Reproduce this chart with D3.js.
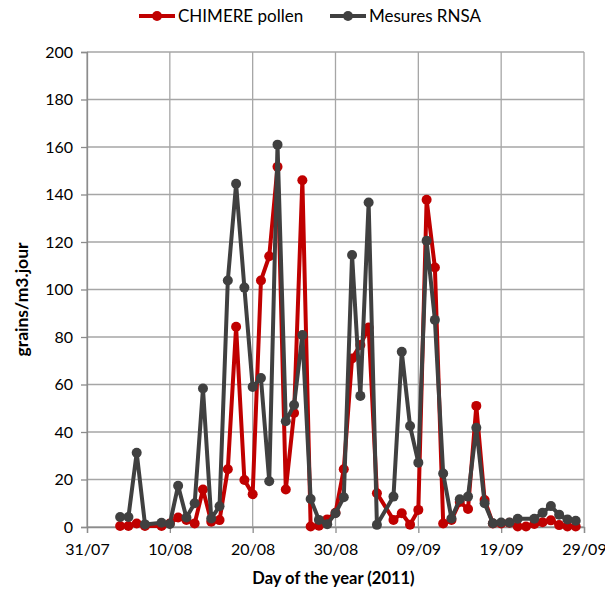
<!DOCTYPE html>
<html>
<head>
<meta charset="utf-8">
<script src="https://cdn.jsdelivr.net/npm/d3@7"></script>
<style>
  body { margin: 0; background: #fff; }
  text { font-family: Lato, "Open Sans", sans-serif; fill: #000; }
</style>
</head>
<body>
<div id="chart"></div>
<script>
// day offset from 31/07/2011
var days = [4, 5, 6, 7, 9, 10, 11, 12, 13, 14, 15, 16, 17, 18, 19, 20, 21, 22, 23, 24, 25, 26, 27, 28, 29,
  30, 31, 32, 33, 34, 35, 37, 38, 39, 40, 41, 42, 43, 44, 45, 46, 47, 48, 49, 50, 51, 52, 53, 54, 55, 56, 57, 58, 59];

var chimere = [0.4, 0.4, 1.5, 0.4, 0.4, 1.5, 4, 3, 1.5, 15.8, 2.2, 2.9, 24.3, 84.3, 19.8, 13.8, 103.8, 114, 151.7, 15.8, 48, 146, 0.2, 0.5, 3.2,
  6, 24.3, 71, 76.6, 84, 14.2, 3, 5.8, 1, 7.2, 137.8, 109.3, 1.5, 3, 10.5, 7.6, 51, 11.4, 1.5, 1.5, 1.8, 0.2, 0.2, 1.3, 2, 2.8, 0.8, 0.2, 0.2];

// RNSA: no value on day 53
var rnsa = [4.2, 4.2, 31.3, 1.1, 1.8, 1.3, 17.4, 4, 10, 58.3, 3.6, 8.7, 103.8, 144.5, 100.8, 59, 62.7, 19.3, 161, 44.5, 51.4, 80.8, 11.8, 3, 1.2,
  5.8, 12.5, 114.5, 55.2, 136.6, 0.9, 12.8, 73.8, 42.5, 27.1, 120.5, 87.2, 22.5, 3.6, 11.7, 12.8, 41.8, 10, 1.6, 1.9, 1.9, 3.5, null, 3.5, 6, 8.8, 5.2, 3.2, 2.6];

var xTicks = ["31/07", "10/08", "20/08", "30/08", "09/09", "19/09", "29/09"];
var yTicks = [0, 20, 40, 60, 80, 100, 120, 140, 160, 180, 200];

var seriesNames = ["CHIMERE pollen", "Mesures RNSA"];
var colors = ["#c00000", "#404040"];

var margin = { top: 52, right: 21, bottom: 63, left: 87 };
var width = 605 - margin.left - margin.right,
    height = 590 - margin.top - margin.bottom;

var x = d3.scaleLinear().domain([0, 60]).range([0, width]);
var y = d3.scaleLinear().domain([0, 200]).range([height, 0]);

var svg = d3.select("#chart").append("svg")
    .attr("width", 605)
    .attr("height", 590);

var g = svg.append("g")
    .attr("transform", "translate(" + margin.left + "," + margin.top + ")");

// grid
g.append("g").selectAll("line").data(yTicks).join("line")
    .attr("x1", 0).attr("x2", width)
    .attr("y1", d => y(d)).attr("y2", d => y(d))
    .style("stroke", "#a6a6a6").style("stroke-width", 1.3);

g.append("g").selectAll("line").data(xTicks).join("line")
    .attr("x1", (d, i) => x(i * 10)).attr("x2", (d, i) => x(i * 10))
    .attr("y1", 0).attr("y2", height)
    .style("stroke", "#a6a6a6").style("stroke-width", 1.3);

// axes
var xAxis = d3.axisBottom(x).tickValues(d3.range(0, 61, 10))
    .tickFormat((d, i) => xTicks[i]).tickSize(6).tickPadding(8);
var yAxis = d3.axisLeft(y).tickValues(yTicks).tickSize(6).tickPadding(8);

var gx = g.append("g")
    .attr("transform", "translate(0," + height + ")")
    .call(xAxis);
var gy = g.append("g").call(yAxis);

[gx, gy].forEach(function (a) {
    a.select(".domain").style("stroke", "#8c8c8c").style("stroke-width", 1.3);
    a.selectAll(".tick line").style("stroke", "#8c8c8c").style("stroke-width", 1.3);
    a.selectAll("text").style("font-family", "Lato, 'Open Sans', sans-serif")
        .style("font-size", "16px").style("fill", "#000");
});
gx.selectAll("text").attr("dy", "0.85em");

// series
var allSeries = [chimere, rnsa];
allSeries.forEach(function (vals, s) {
    var pts = days.map((d, i) => ({ x: d, y: vals[i] })).filter(p => p.y != null);
    var line = d3.line().x(p => x(p.x)).y(p => y(p.y));
    g.append("path")
        .datum(pts)
        .attr("d", line)
        .style("fill", "none")
        .style("stroke", colors[s])
        .style("stroke-width", 4)
        .style("stroke-linejoin", "round");
    g.append("g").selectAll("circle").data(pts).join("circle")
        .attr("cx", p => x(p.x))
        .attr("cy", p => y(p.y))
        .attr("r", 5)
        .style("fill", colors[s]);
});

// axis titles
svg.append("text")
    .attr("x", margin.left + width / 2 - 2)
    .attr("y", 584)
    .attr("text-anchor", "middle")
    .style("font-size", "16.5px")
    .style("font-weight", "bold")
    .text("Day of the year (2011)");

svg.append("text")
    .attr("transform", "translate(28," + (margin.top + height / 2 + 10) + ") rotate(-90)")
    .attr("text-anchor", "middle")
    .style("font-size", "17.5px")
    .style("font-weight", "bold")
    .text("grains/m3.jour");

// legend
var legendX = [139, 330];
seriesNames.forEach(function (name, s) {
    var lg = svg.append("g").attr("transform", "translate(" + legendX[s] + ",16)");
    lg.append("line").attr("x1", 0).attr("x2", 36).attr("y1", 0).attr("y2", 0)
        .style("stroke", colors[s]).style("stroke-width", 4);
    lg.append("circle").attr("cx", 18).attr("cy", 0).attr("r", 5).style("fill", colors[s]);
    lg.append("text").attr("x", 39).attr("y", 0).attr("dy", "0.35em")
        .style("font-size", "17px").text(name);
});
</script>
</body>
</html>
